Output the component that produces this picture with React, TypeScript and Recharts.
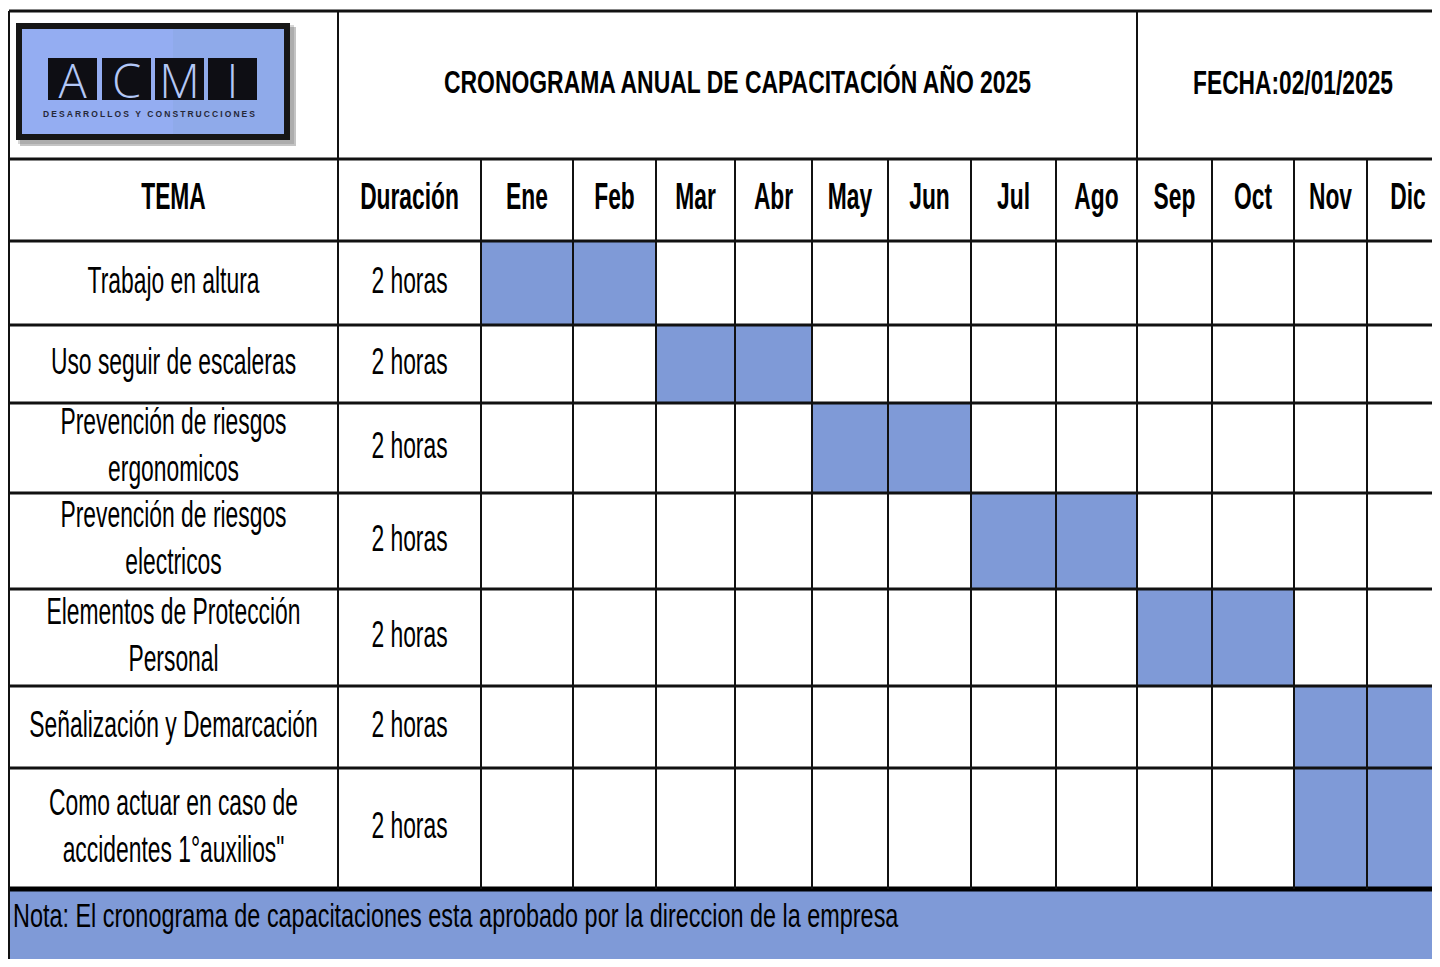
import React from "react";
import { ComposedChart, XAxis, YAxis, ReferenceArea, ReferenceLine } from "recharts";

// ---------- content ----------
const TITLE = "CRONOGRAMA ANUAL DE CAPACITACIÓN AÑO 2025";
const DATE_LABEL = "FECHA:02/01/2025";
const HEADER_TOPIC = "TEMA";
const HEADER_DURATION = "Duración";
const MONTHS = ["Ene", "Feb", "Mar", "Abr", "May", "Jun", "Jul", "Ago", "Sep", "Oct", "Nov", "Dic"];
const TOPICS: string[][] = [
  ["Trabajo en altura"],
  ["Uso seguir de escaleras"],
  ["Prevención de riesgos", "ergonomicos"],
  ["Prevención de riesgos", "electricos"],
  ["Elementos de Protección", "Personal"],
  ["Señalización y Demarcación"],
  ["Como actuar en caso de", "accidentes 1°auxilios\""],
];
const DURATIONS = ["2 horas", "2 horas", "2 horas", "2 horas", "2 horas", "2 horas", "2 horas"];
const START_MONTH = [0, 2, 4, 6, 8, 10, 10];
const SPAN_MONTHS = [2, 2, 2, 2, 2, 2, 2];
const NOTE = "Nota: El cronograma de capacitaciones esta aprobado por la direccion de la empresa";
const LOGO_LETTERS = ["A", "C", "M", "I"];
const LOGO_SUBTITLE = "DESARROLLOS Y CONSTRUCCIONES";

// ---------- layout (sheet geometry) ----------
const COL_W = [329, 143, 92, 83, 79, 77, 76, 83, 85, 81, 75, 82, 73, 82];
const ROW_H = [148, 82, 84, 78, 90, 96, 97, 82, 121, 80];
const X0 = 1;
const Y0 = 3;
const CHART_W = 1441;
const CHART_H = 961;

const colEdges: number[] = [X0];
COL_W.forEach((w) => colEdges.push(colEdges[colEdges.length - 1] + w));
const rowEdges: number[] = [Y0];
ROW_H.forEach((h) => rowEdges.push(rowEdges[rowEdges.length - 1] + h));

const BLUE = "#7f9ad7";
const LINE = "#111111";
const FONT = "'Liberation Sans', Arial, Helvetica, sans-serif";

type TStyle = { size: number; sx: number; bold: boolean; dy: number; lh: number };
const BODY: TStyle = { size: 36, sx: 0.635, bold: false, dy: 9.5, lh: 47 };
const HEAD: TStyle = { size: 36, sx: 0.633, bold: true, dy: 9, lh: 47 };
const TITLE_S: TStyle = { size: 31, sx: 0.74, bold: true, dy: 7.8, lh: 40 };
const DATE_S: TStyle = { size: 33.5, sx: 0.68, bold: true, dy: 9, lh: 40 };
const NOTE_S: TStyle = { size: 33, sx: 0.71, bold: false, dy: 0, lh: 40 };

function SText({ x, y, text, st, anchor = "middle" }: { x: number; y: number; text: string; st: TStyle; anchor?: string }) {
  return (
    <text
      transform={`translate(${x} ${y}) scale(${st.sx} 1)`}
      x={0}
      y={0}
      fontFamily={FONT}
      fontSize={st.size}
      fontWeight={st.bold ? 700 : 400}
      textAnchor={anchor as any}
      fill="#000"
    >
      {text}
    </text>
  );
}

function cellText(p: any, lines: string[], st: TStyle, fill?: string) {
  const cx = p.x + p.width / 2;
  const cy = p.y + p.height / 2;
  const n = lines.length;
  return (
    <g>
      {fill ? <rect x={p.x} y={p.y} width={p.width} height={p.height} fill={fill} /> : null}
      {lines.map((t, i) => (
        <SText key={i} x={cx} y={cy + st.dy + (i - (n - 1) / 2) * st.lh} text={t} st={st} />
      ))}
    </g>
  );
}

function logo(p: any) {
  const ox = p.x;
  const oy = p.y;
  const boxX = [39, 93, 146, 199];
  return (
    <g>
      <rect x={ox + 11} y={oy + 16} width={276} height={119} fill="#555" opacity={0.35} />
      <rect x={ox + 9} y={oy + 14} width={276} height={119} fill="#777" opacity={0.3} />
      <rect x={ox + 7} y={oy + 12} width={274} height={117} fill="#161616" />
      <rect x={ox + 13} y={oy + 18} width={262} height={105} fill="#94adf2" />
      <rect x={ox + 164} y={oy + 18} width={111} height={105} fill="#8faaea" />
      {LOGO_LETTERS.map((l, i) => (
        <g key={l}>
          <rect x={ox + boxX[i]} y={oy + 47} width={49} height={42} fill="#0e0e14" />
          <text
            x={ox + boxX[i] + 24.5}
            y={oy + 87}
            textAnchor="middle"
            fontFamily="'Open Sans', 'DejaVu Sans', sans-serif"
            fontWeight={300}
            fontSize={47}
            fill="#b3c7f6"
          >
            {l}
          </text>
        </g>
      ))}
      <text
        x={ox + 34}
        y={oy + 106}
        fontFamily={FONT}
        fontWeight={700}
        fontSize={8.5}
        textLength={212}
        lengthAdjust="spacing"
        fill="#262838"
      >
        {LOGO_SUBTITLE}
      </text>
    </g>
  );
}

export default function App() {
  const areas: React.ReactNode[] = [];
  const lines: React.ReactNode[] = [];

  // schedule fills (drawn from START_MONTH / SPAN_MONTHS)
  TOPICS.forEach((_, r) => {
    for (let k = 0; k < SPAN_MONTHS[r]; k++) {
      const m = START_MONTH[r] + k;
      areas.push(
        <ReferenceArea
          key={`s-${r}-${m}`}
          x1={colEdges[2 + m]}
          x2={colEdges[3 + m]}
          y1={rowEdges[2 + r]}
          y2={rowEdges[3 + r]}
          ifOverflow="visible"
          fill={BLUE}
          fillOpacity={1}
          stroke="none"
        />
      );
    }
  });

  // note row
  areas.push(
    <ReferenceArea
      key="note"
      x1={colEdges[0]}
      x2={colEdges[14]}
      y1={rowEdges[9]}
      y2={rowEdges[10]}
      ifOverflow="visible"
      shape={(p: any) => (
        <g>
          <rect x={p.x} y={p.y} width={p.width} height={p.height} fill={BLUE} />
          <SText x={p.x + 4} y={p.y + 38} text={NOTE} st={NOTE_S} anchor="start" />
        </g>
      )}
    />
  );

  // title row
  areas.push(
    <ReferenceArea key="logo" x1={colEdges[0]} x2={colEdges[1]} y1={rowEdges[0]} y2={rowEdges[1]} ifOverflow="visible" shape={(p: any) => logo(p)} />
  );
  areas.push(
    <ReferenceArea key="title" x1={colEdges[1]} x2={colEdges[10]} y1={rowEdges[0]} y2={rowEdges[1]} ifOverflow="visible" shape={(p: any) => cellText(p, [TITLE], TITLE_S)} />
  );
  areas.push(
    <ReferenceArea key="date" x1={colEdges[10]} x2={colEdges[14]} y1={rowEdges[0]} y2={rowEdges[1]} ifOverflow="visible" shape={(p: any) => cellText(p, [DATE_LABEL], DATE_S)} />
  );

  // header row
  areas.push(
    <ReferenceArea key="h-topic" x1={colEdges[0]} x2={colEdges[1]} y1={rowEdges[1]} y2={rowEdges[2]} ifOverflow="visible" shape={(p: any) => cellText(p, [HEADER_TOPIC], HEAD)} />
  );
  areas.push(
    <ReferenceArea key="h-dur" x1={colEdges[1]} x2={colEdges[2]} y1={rowEdges[1]} y2={rowEdges[2]} ifOverflow="visible" shape={(p: any) => cellText(p, [HEADER_DURATION], HEAD)} />
  );
  MONTHS.forEach((m, i) => {
    areas.push(
      <ReferenceArea key={`h-${m}`} x1={colEdges[2 + i]} x2={colEdges[3 + i]} y1={rowEdges[1]} y2={rowEdges[2]} ifOverflow="visible" shape={(p: any) => cellText(p, [m], HEAD)} />
    );
  });

  // topic rows
  TOPICS.forEach((t, r) => {
    areas.push(
      <ReferenceArea key={`t-${r}`} x1={colEdges[0]} x2={colEdges[1]} y1={rowEdges[2 + r]} y2={rowEdges[3 + r]} ifOverflow="visible" shape={(p: any) => cellText(p, t, BODY)} />
    );
    areas.push(
      <ReferenceArea key={`d-${r}`} x1={colEdges[1]} x2={colEdges[2]} y1={rowEdges[2 + r]} y2={rowEdges[3 + r]} ifOverflow="visible" shape={(p: any) => cellText(p, [DURATIONS[r]], BODY)} />
    );
  });

  // horizontal grid lines
  for (let i = 0; i <= 8; i++) {
    lines.push(
      <ReferenceLine
        key={`hl-${i}`}
        segment={[{ x: colEdges[0], y: rowEdges[i] }, { x: colEdges[14], y: rowEdges[i] }]}
        stroke={LINE}
        strokeWidth={3}
        ifOverflow="visible"
      />
    );
  }
  lines.push(
    <ReferenceLine
      key="hl-note"
      segment={[{ x: colEdges[0], y: rowEdges[9] }, { x: colEdges[14], y: rowEdges[9] }]}
      stroke="#000"
      strokeWidth={5}
      ifOverflow="visible"
    />
  );

  // vertical grid lines
  lines.push(
    <ReferenceLine key="vl-left" segment={[{ x: colEdges[0], y: rowEdges[0] }, { x: colEdges[0], y: CHART_H }]} stroke={LINE} strokeWidth={2} ifOverflow="visible" />
  );
  for (let c = 1; c <= 13; c++) {
    const full = c === 1 || c === 10;
    lines.push(
      <ReferenceLine
        key={`vl-${c}`}
        segment={[{ x: colEdges[c], y: full ? rowEdges[0] : rowEdges[1] }, { x: colEdges[c], y: rowEdges[9] }]}
        stroke={LINE}
        strokeWidth={2}
        ifOverflow="visible"
      />
    );
  }

  return (
    <div style={{ width: 1432, height: 959, overflow: "hidden", marginBottom: -8, background: "#fff" }}>
      <ComposedChart width={CHART_W} height={CHART_H} data={[]} margin={{ top: 0, right: 0, bottom: 0, left: 0 }}>
        <XAxis type="number" dataKey="x" domain={[0, CHART_W]} allowDataOverflow hide />
        <YAxis type="number" dataKey="y" domain={[0, CHART_H]} allowDataOverflow reversed hide />
        {areas}
        {lines}
      </ComposedChart>
    </div>
  );
}
